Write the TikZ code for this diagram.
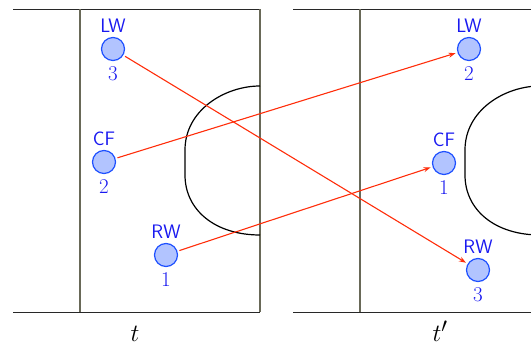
\documentclass[tikz,border=0pt]{standalone}
\usepackage{tikz}
\usetikzlibrary{arrows.meta}
\definecolor{plfill}{RGB}{178,196,255}
\definecolor{pldraw}{RGB}{30,80,255}
\definecolor{pltext}{RGB}{25,25,240}
\definecolor{mvred}{RGB}{255,45,10}
\definecolor{olivegray}{RGB}{105,105,88}
\definecolor{linegray}{RGB}{40,40,40}
\tikzset{
  player/.style={circle,draw=pldraw,fill=plfill,line width=1.2pt,minimum size=23pt,inner sep=0pt},
  poslbl/.style={anchor=base,inner sep=0pt,text=pltext,font=\sffamily\fontsize{19.5}{19.5}\selectfont},
  numlbl/.style={anchor=base,inner sep=0pt,text=pltext,font=\fontsize{21}{21}\selectfont},
  move/.style={draw=mvred,line width=1.1pt,-{Stealth[length=7pt,width=5pt]},shorten <=2pt,shorten >=2pt},
  field/.style={draw=linegray,line width=1.5pt},
  sideline/.style={draw=olivegray,line width=1.4pt},
  box/.style={draw=black,line width=1.2pt},
  timelbl/.style={anchor=base,inner sep=0pt,font=\fontsize{28}{28}\selectfont}
}
\begin{document}
\begin{tikzpicture}[x=1pt,y=-1pt]
\useasboundingbox (0,0) rectangle (531,347);
\clip (0,0) rectangle (531,347);
% left panel
\draw[field] (13,9.5) -- (260,9.5);
\draw[field] (13,312.5) -- (260,312.5);
\draw[sideline] (80,9.5) -- (80,312.5);
\draw[sideline] (260,9.5) -- (260,312.5);
\draw[box] (260,86) .. controls (225,86) and (185,110) .. (185,150) -- (185,175)
  .. controls (185,210) and (215,235) .. (260,235);
% right panel
\draw[field] (293,9.5) -- (545,9.5);
\draw[field] (293,312.5) -- (545,312.5);
\draw[sideline] (360,9.5) -- (360,312.5);
\draw[sideline] (540,9.5) -- (540,312.5);
\draw[box] (540,86) .. controls (505,86) and (465,110) .. (465,150) -- (465,175)
  .. controls (465,210) and (495,235) .. (540,235);
% players at t
\node[player] (lw1) at (113,49) {};
\node[poslbl] (lw1t) at (113,33) {LW};
\node[numlbl] (lw1n) at (113,81) {3};
\node[player] (cf1) at (104,162) {};
\node[poslbl] (cf1t) at (104,146) {CF};
\node[numlbl] (cf1n) at (104,194) {2};
\node[player] (rw1) at (166,255) {};
\node[poslbl] (rw1t) at (166,239) {RW};
\node[numlbl] (rw1n) at (166,287) {1};
% players at t'
\node[player] (lw2) at (469,49) {};
\node[poslbl] (lw2t) at (469,33) {LW};
\node[numlbl] (lw2n) at (469,81) {2};
\node[player] (cf2) at (444,163) {};
\node[poslbl] (cf2t) at (444,147) {CF};
\node[numlbl] (cf2n) at (444,195) {1};
\node[player] (rw2) at (478,270) {};
\node[poslbl] (rw2t) at (478,254) {RW};
\node[numlbl] (rw2n) at (478,302) {3};
% moves
\draw[move] (lw1) -- (rw2);
\draw[move] (cf1) -- (lw2);
\draw[move] (rw1) -- (cf2);
% time labels
\node[timelbl] (t1) at (135,342) {$t$};
\node[timelbl] (t2) at (440,342) {$t'$};
\end{tikzpicture}
\end{document}
